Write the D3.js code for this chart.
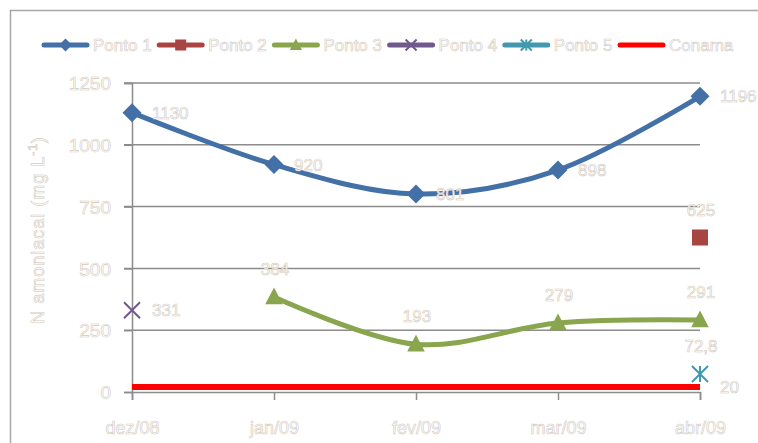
<!DOCTYPE html>
<html>
<head>
<meta charset="utf-8">
<script src="https://cdn.jsdelivr.net/npm/d3@7"></script>
<style>
  html, body { margin: 0; padding: 0; background: #ffffff; }
  svg { display: block; }
  .lbl { fill: #ffffff; stroke: #d3c9bd; stroke-width: 0.6px; font-family: "Liberation Sans", Arial, sans-serif; }
</style>
</head>
<body>
<svg id="chart" width="758" height="443"></svg>
<script>
// ---- data ----
const months = ["dez/08", "jan/09", "fev/09", "mar/09", "abr/09"];
const ponto1 = [1130, 920, 801, 898, 1196];
const ponto2 = [null, null, null, null, 625];
const ponto3 = [null, 384, 193, 279, 291];
const ponto4 = [331, null, null, null, null];
const ponto5 = [null, null, null, null, 72.8];
const conama = [20, 20, 20, 20, 20];
const seriesNames = ["Ponto 1", "Ponto 2", "Ponto 3", "Ponto 4", "Ponto 5", "Conama"];
const yTicks = [0, 250, 500, 750, 1000, 1250];
const yTitle = "N amoniacal  (mg L";
const pointLabels = {
  "Ponto 5": ["", "", "", "", "72,8"]
};

// ---- setup ----
const svg = d3.select("#chart");
const x = d3.scalePoint().domain(months).range([132, 700]).padding(0);
const y = d3.scaleLinear().domain([0, 1250]).range([392, 83]);

const series = [
  { name: seriesNames[0], values: ponto1, color: "#4470A8", marker: "diamond", width: 5, labelPos: "right" },
  { name: seriesNames[1], values: ponto2, color: "#A84442", marker: "square", width: 5, labelPos: "above" },
  { name: seriesNames[2], values: ponto3, color: "#89A54E", marker: "triangle", width: 5, labelPos: "above" },
  { name: seriesNames[3], values: ponto4, color: "#71588F", marker: "x", width: 5, labelPos: "right" },
  { name: seriesNames[4], values: ponto5, color: "#4198AF", marker: "star", width: 5, labelPos: "above" },
  { name: seriesNames[5], values: conama, color: "#FF0000", marker: "none", width: 6, labelPos: "rightLast" }
];

// chart border
svg.append("rect").attr("x", 10.5).attr("y", 10.5).attr("width", 800).attr("height", 500)
  .attr("fill", "none").attr("stroke", "#a6a6a6").attr("stroke-width", 1.5);

// gridlines
svg.append("g").selectAll("line").data(yTicks.filter(d => d > 0)).join("line")
  .attr("x1", 124).attr("x2", 700)
  .attr("y1", d => y(d)).attr("y2", d => y(d))
  .attr("stroke", "#8c8c8c").attr("stroke-width", 1.5);

// y axis
const yAxis = d3.axisLeft(y).tickValues(yTicks).tickFormat(d3.format("d")).tickSize(8).tickPadding(13);
const gy = svg.append("g").attr("transform", "translate(132,0)").call(yAxis);
gy.select(".domain").attr("stroke", "#8c8c8c").attr("stroke-width", 1.5);
gy.selectAll(".tick line").attr("stroke", "#8c8c8c").attr("stroke-width", 1.5);
gy.selectAll(".tick text").attr("class", "lbl").style("font-size", "19px").attr("dy", "0.35em");

// x axis
const xAxis = d3.axisBottom(x).tickSize(8).tickPadding(21);
const gx = svg.append("g").attr("transform", "translate(0,392)").call(xAxis);
gx.select(".domain").attr("stroke", "#8c8c8c").attr("stroke-width", 1.5);
gx.selectAll(".tick line").attr("stroke", "#8c8c8c").attr("stroke-width", 1.5);
gx.selectAll(".tick text").attr("class", "lbl").style("font-size", "18px");

// y title
const yt = svg.append("text").attr("class", "lbl")
  .attr("transform", "translate(44,230) rotate(-90)")
  .attr("text-anchor", "middle").style("font-size", "18px").style("letter-spacing", "1px");
yt.append("tspan").text(yTitle);
yt.append("tspan").attr("dy", "-7").style("font-size", "12px").text("-1");
yt.append("tspan").attr("dy", "7").text(")");

// marker drawing
function drawMarker(g, type, cx, cy, color, s) {
  if (type === "diamond") {
    const h = s / 2;
    g.append("path").attr("d", `M${cx},${cy - h}L${cx + h},${cy}L${cx},${cy + h}L${cx - h},${cy}Z`).attr("fill", color);
  } else if (type === "square") {
    g.append("rect").attr("x", cx - s / 2).attr("y", cy - s / 2).attr("width", s).attr("height", s).attr("fill", color);
  } else if (type === "triangle") {
    g.append("path").attr("d", `M${cx},${cy - s * 0.6}L${cx + s * 0.55},${cy + s * 0.45}L${cx - s * 0.55},${cy + s * 0.45}Z`).attr("fill", color);
  } else if (type === "x") {
    const h = s / 2;
    g.append("path").attr("d", `M${cx - h},${cy - h}L${cx + h},${cy + h}M${cx - h},${cy + h}L${cx + h},${cy - h}`)
      .attr("stroke", color).attr("stroke-width", 2).attr("fill", "none");
  } else if (type === "star") {
    const h = s / 2;
    g.append("path").attr("d", `M${cx - h},${cy - h}L${cx + h},${cy + h}M${cx - h},${cy + h}L${cx + h},${cy - h}M${cx},${cy - h}L${cx},${cy + h}`)
      .attr("stroke", color).attr("stroke-width", 2).attr("fill", "none");
  }
}

// lines
const smooth = d3.line()
  .defined(d => d.v !== null)
  .x(d => x(d.m)).y(d => y(d.v))
  .curve(d3.curveCatmullRom.alpha(0));
const straight = d3.line()
  .defined(d => d.v !== null)
  .x(d => x(d.m)).y(d => y(d.v));

series.forEach(s => {
  const pts = months.map((m, i) => ({ m, v: s.values[i] }));
  const valid = pts.filter(p => p.v !== null);
  const g = svg.append("g");
  if (valid.length > 1) {
    g.append("path").datum(pts).attr("d", s.marker === "none" ? straight : smooth)
      .attr("fill", "none").attr("stroke", s.color).attr("stroke-width", s.width)
      .attr("stroke-linecap", s.marker === "none" ? "butt" : "round").attr("stroke-linejoin", "round");
  }
  valid.forEach(p => drawMarker(g, s.marker, x(p.m), y(p.v), s.color, s.marker === "diamond" ? 19 : 16));
});

// data labels
series.forEach(s => {
  const custom = pointLabels[s.name];
  months.forEach((m, i) => {
    const v = s.values[i];
    if (v === null) return;
    if (s.labelPos === "rightLast" && i !== months.length - 1) return;
    const txt = custom ? custom[i] : String(v);
    const t = svg.append("text").attr("class", "lbl").style("font-size", "17px").text(txt);
    if (s.labelPos === "right" || s.labelPos === "rightLast") {
      t.attr("x", x(m) + 20).attr("y", y(v) + 6);
    } else {
      t.attr("x", x(m) + 1).attr("y", y(v) - 22).attr("text-anchor", "middle");
    }
  });
});

// legend
const legend = svg.append("g");
series.forEach((s, i) => {
  const x0 = 42 + i * 115.2;
  const ly = 45;
  legend.append("line").attr("x1", x0 + 2).attr("x2", x0 + 45).attr("y1", ly).attr("y2", ly)
    .attr("stroke", s.color).attr("stroke-width", 5).attr("stroke-linecap", "round");
  if (s.marker !== "none") drawMarker(legend, s.marker, x0 + 23.5, ly, s.color, s.marker === "diamond" ? 13 : 11);
  legend.append("text").attr("class", "lbl").style("font-size", "17px")
    .attr("x", x0 + 51).attr("y", ly + 6).text(s.name);
});
</script>
</body>
</html>
